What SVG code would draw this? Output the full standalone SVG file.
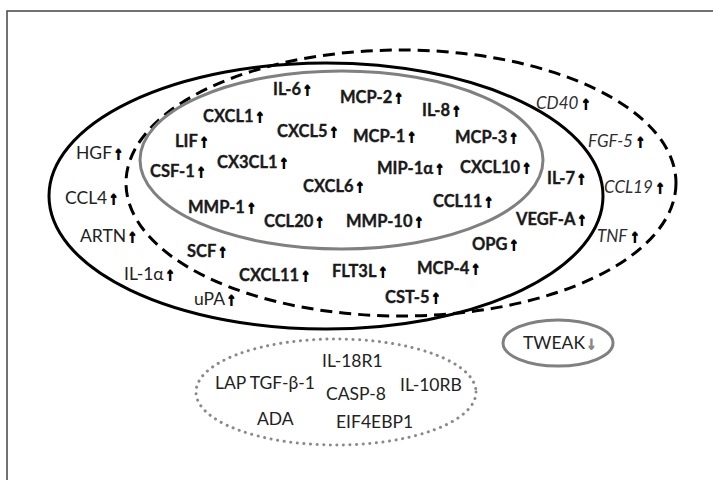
<svg xmlns="http://www.w3.org/2000/svg" width="713" height="480" viewBox="0 0 713 480">
<style>
text { font-family: Lato, "Liberation Sans", "DejaVu Sans", sans-serif; font-size: 16px; }
.b { font-size: 16.5px; font-weight: bold; fill: #1a1a1a; stroke: #1a1a1a; stroke-width: 0.35; }
.r { font-size: 17.5px; font-weight: normal; fill: #222222; }
.i { font-size: 17px; font-weight: normal; font-style: italic; fill: #2e2e2e; }
.a { font-family: "Liberation Sans", "DejaVu Sans", sans-serif; font-size: 17px; font-weight: bold; font-style: normal; fill: #000000; stroke: #000000; stroke-width: 1.6; stroke-linejoin: miter; }
.ag { font-family: "Liberation Sans", "DejaVu Sans", sans-serif; font-size: 17px; font-weight: bold; fill: #8a8a8a; stroke: #8a8a8a; stroke-width: 1.6; }
.set { fill: none; }
.solid { stroke: #000; stroke-width: 3; }
.dash { stroke: #000; stroke-width: 3; stroke-dasharray: 12 7; }
.gray { stroke: #808080; stroke-width: 3; }
.dot { stroke: #8a8a8a; stroke-width: 3; stroke-dasharray: 0.1 6.5; stroke-linecap: round; }
</style>
<rect x="7" y="11" width="720" height="480" fill="#fff" stroke="#444" stroke-width="1.5"/>
<g id="set-solid"><ellipse class="set solid" cx="326" cy="196" rx="277" ry="133"/></g>
<g id="set-dashed"><ellipse class="set dash" cx="401" cy="183" rx="275" ry="133"/></g>
<g id="set-gray"><ellipse class="set gray" cx="341.5" cy="160" rx="201.5" ry="89"/></g>
<g id="set-dotted"><ellipse class="set dot" cx="336" cy="392" rx="140" ry="53"/></g>
<g id="connectors"></g>
<g id="labels-core">
<g id="n-il6"><text class="b" x="273" y="95">IL-6<tspan class="a" dx="2">↑</tspan></text></g>
<g id="n-mcp2"><text class="b" x="340" y="103">MCP-2<tspan class="a" dx="2">↑</tspan></text></g>
<g id="n-il8"><text class="b" x="422" y="116">IL-8<tspan class="a" dx="2">↑</tspan></text></g>
<g id="n-cxcl1"><text class="b" x="203" y="122">CXCL1<tspan class="a" dx="2">↑</tspan></text></g>
<g id="n-cxcl5"><text class="b" x="277" y="137">CXCL5<tspan class="a" dx="2">↑</tspan></text></g>
<g id="n-mcp1"><text class="b" x="353" y="142">MCP-1<tspan class="a" dx="2">↑</tspan></text></g>
<g id="n-mcp3"><text class="b" x="455" y="143">MCP-3<tspan class="a" dx="2">↑</tspan></text></g>
<g id="n-lif"><text class="b" x="175" y="147">LIF<tspan class="a" dx="2">↑</tspan></text></g>
<g id="n-cx3cl1"><text class="b" x="217" y="168">CX3CL1<tspan class="a" dx="2">↑</tspan></text></g>
<g id="n-csf1"><text class="b" x="150" y="177">CSF-1<tspan class="a" dx="2">↑</tspan></text></g>
<g id="n-mip1a"><text class="b" x="377" y="174">MIP-1α<tspan class="a" dx="2">↑</tspan></text></g>
<g id="n-cxcl10"><text class="b" x="460" y="173">CXCL10<tspan class="a" dx="2">↑</tspan></text></g>
<g id="n-cxcl6"><text class="b" x="303" y="192">CXCL6<tspan class="a" dx="2">↑</tspan></text></g>
<g id="n-ccl11"><text class="b" x="433" y="207">CCL11<tspan class="a" dx="2">↑</tspan></text></g>
<g id="n-mmp1"><text class="b" x="188" y="213">MMP-1<tspan class="a" dx="2">↑</tspan></text></g>
<g id="n-ccl20"><text class="b" x="264" y="227">CCL20<tspan class="a" dx="2">↑</tspan></text></g>
<g id="n-mmp10"><text class="b" x="346" y="227">MMP-10<tspan class="a" dx="2">↑</tspan></text></g>
</g>
<g id="labels-mid">
<g id="n-il7"><text class="b" x="547" y="184">IL-7<tspan class="a" dx="2">↑</tspan></text></g>
<g id="n-vegfa"><text class="b" x="516" y="225">VEGF-A<tspan class="a" dx="2">↑</tspan></text></g>
<g id="n-opg"><text class="b" x="472" y="250">OPG<tspan class="a" dx="2">↑</tspan></text></g>
<g id="n-scf"><text class="b" x="187" y="257">SCF<tspan class="a" dx="2">↑</tspan></text></g>
<g id="n-mcp4"><text class="b" x="417" y="274">MCP-4<tspan class="a" dx="2">↑</tspan></text></g>
<g id="n-flt3l"><text class="b" x="332" y="277">FLT3L<tspan class="a" dx="2">↑</tspan></text></g>
<g id="n-cxcl11"><text class="b" x="239" y="281">CXCL11<tspan class="a" dx="2">↑</tspan></text></g>
<g id="n-cst5"><text class="b" x="385" y="303">CST-5<tspan class="a" dx="2">↑</tspan></text></g>
</g>
<g id="labels-left">
<g id="n-hgf"><text class="r" x="76" y="159">HGF<tspan class="a" dx="2">↑</tspan></text></g>
<g id="n-ccl4"><text class="r" x="65" y="204">CCL4<tspan class="a" dx="2">↑</tspan></text></g>
<g id="n-artn"><text class="r" x="80" y="242">ARTN<tspan class="a" dx="2">↑</tspan></text></g>
<g id="n-il1a"><text class="r" x="124" y="280">IL-1α<tspan class="a" dx="2">↑</tspan></text></g>
<g id="n-upa"><text class="r" x="194" y="305">uPA<tspan class="a" dx="2">↑</tspan></text></g>
</g>
<g id="labels-right">
<g id="n-cd40"><text class="i" x="536" y="109">CD40<tspan class="a" dx="3">↑</tspan></text></g>
<g id="n-fgf5"><text class="i" x="588" y="147">FGF-5<tspan class="a" dx="3">↑</tspan></text></g>
<g id="n-ccl19"><text class="i" x="604" y="193">CCL19<tspan class="a" dx="3">↑</tspan></text></g>
<g id="n-tnf"><text class="i" x="597" y="242">TNF<tspan class="a" dx="3">↑</tspan></text></g>
</g>
<g id="labels-bottom">
<g id="n-il18r1"><text class="r" x="322" y="367">IL-18R1</text></g>
<g id="n-laptgfb1"><text class="r" x="215" y="389">LAP TGF-β-1</text></g>
<g id="n-il10rb"><text class="r" x="400" y="391">IL-10RB</text></g>
<g id="n-casp8"><text class="r" x="326" y="400">CASP-8</text></g>
<g id="n-ada"><text class="r" x="257" y="425">ADA</text></g>
<g id="n-eif4ebp1"><text class="r" x="336" y="428">EIF4EBP1</text></g>
</g>
<g id="node-tweak">
<ellipse class="set gray" cx="558" cy="343" rx="55" ry="23"/>
<text class="r" x="523" y="349">TWEAK<tspan class="ag" dx="2">↓</tspan></text>
</g>
</svg>
